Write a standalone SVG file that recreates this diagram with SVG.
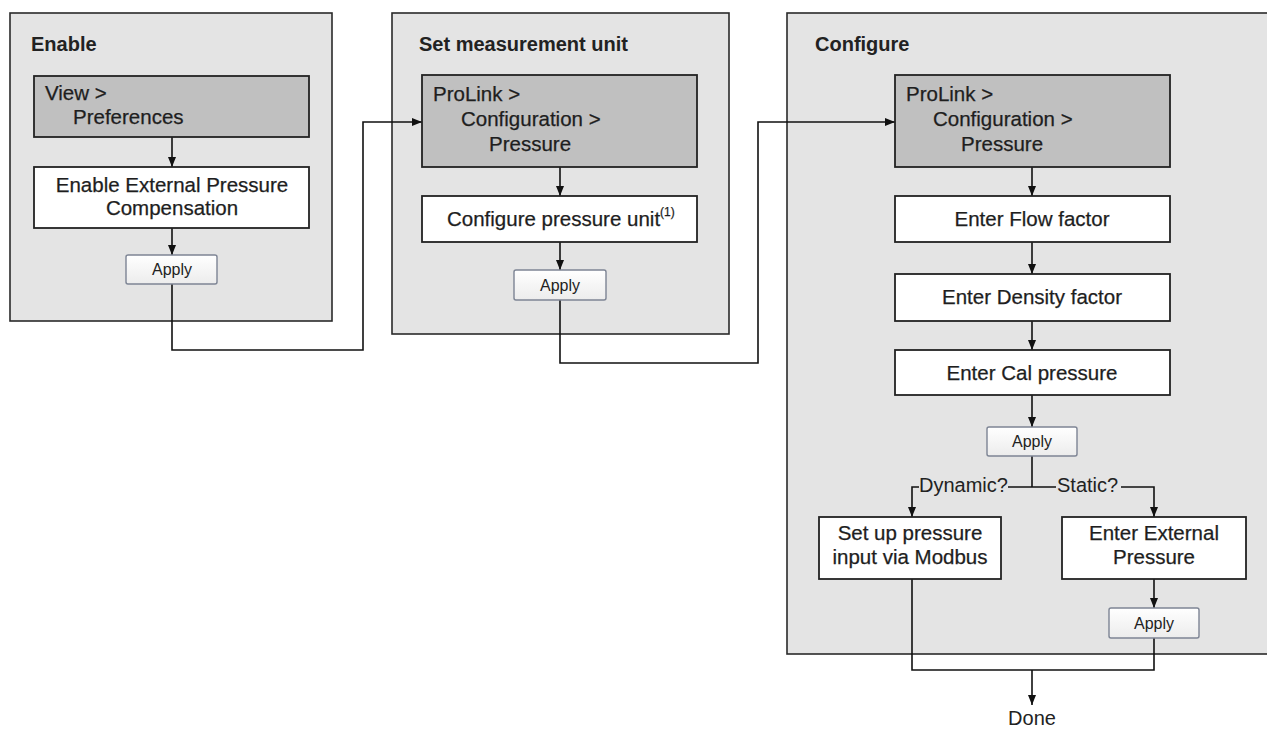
<svg xmlns="http://www.w3.org/2000/svg" width="1267" height="731" viewBox="0 0 1267 731">
<style>
.panel{fill:#e4e4e4;stroke:#2a2a2a;stroke-width:1.6}
.nav{fill:#c0c0c0;stroke:#222;stroke-width:1.8}
.box{fill:#fff;stroke:#222;stroke-width:1.8}
.btn{fill:url(#btnGrad);stroke:#7d8494;stroke-width:1.4}
.title{font-family:"Liberation Sans",Arial,sans-serif;font-size:20px;font-weight:bold;fill:#222}
.t{font-family:"Liberation Sans",Arial,sans-serif;font-size:20.5px;fill:#1e1e1e;stroke:#1e1e1e;stroke-width:0.25}
.c{text-anchor:middle}
.bt{font-family:"Liberation Sans",Arial,sans-serif;font-size:16px;fill:#222;text-anchor:middle}
.lbl{font-family:"Liberation Sans",Arial,sans-serif;font-size:20px;fill:#222}
.ln{fill:none;stroke:#111;stroke-width:1.6}
.arr{fill:none;stroke:#111;stroke-width:1.6;marker-end:url(#ah)}
</style>
<defs>
<linearGradient id="btnGrad" x1="0" y1="0" x2="0" y2="1">
<stop offset="0" stop-color="#ffffff"/>
<stop offset="1" stop-color="#ececec"/>
</linearGradient>
<marker id="ah" viewBox="0 0 10 8" refX="10" refY="4" markerWidth="10" markerHeight="8" markerUnits="userSpaceOnUse" orient="auto">
<path d="M0,0 L10,4 L0,8 z" fill="#111"/>
</marker>
</defs>
<rect width="1267" height="731" fill="#fff"/>

<g id="panel-enable">
<rect class="panel" x="10" y="13" width="322" height="308"/>
<text class="title" x="31" y="51">Enable</text>
</g>
<g id="panel-unit">
<rect class="panel" x="392" y="13" width="337" height="321"/>
<text class="title" x="419" y="51">Set measurement unit</text>
</g>
<g id="panel-configure">
<rect class="panel" x="787" y="13" width="490" height="641"/>
<text class="title" x="815" y="51">Configure</text>
</g>

<g id="connectors">
<line class="arr" x1="172" y1="137" x2="172" y2="167"/>
<line class="arr" x1="172" y1="228" x2="172" y2="255"/>
<polyline class="arr" points="172,284 172,350 363,350 363,122 422,122"/>
<line class="arr" x1="560" y1="167" x2="560" y2="196"/>
<line class="arr" x1="560" y1="242" x2="560" y2="270"/>
<polyline class="arr" points="560,300 560,363 758,363 758,122 895,122"/>
<line class="arr" x1="1032" y1="167" x2="1032" y2="196"/>
<line class="arr" x1="1032" y1="242" x2="1032" y2="274"/>
<line class="arr" x1="1032" y1="321" x2="1032" y2="350"/>
<line class="arr" x1="1032" y1="395" x2="1032" y2="427"/>
<polyline class="ln" points="1032,456 1032,487"/>
<polyline class="arr" points="919,487 912,487 912,517"/>
<line class="ln" x1="1008" y1="487" x2="1056" y2="487"/>
<polyline class="arr" points="1121,487 1154,487 1154,517"/>
<line class="arr" x1="1154" y1="579" x2="1154" y2="608"/>
<polyline class="ln" points="912,579 912,670 1154,670 1154,638"/>
<line class="arr" x1="1032" y1="670" x2="1032" y2="705"/>
<text class="lbl" x="919" y="492">Dynamic?</text>
<text class="lbl" x="1057" y="492">Static?</text>
</g>

<g id="n-view">
<rect class="nav" x="34" y="76" width="275" height="61"/>
<text class="t" x="45" y="100">View &gt;</text>
<text class="t" x="73" y="124">Preferences</text>
</g>
<g id="n-enable-epc">
<rect class="box" x="34" y="167" width="275" height="61"/>
<text class="t c" x="172" y="192">Enable External Pressure</text>
<text class="t c" x="172" y="215">Compensation</text>
</g>
<g id="n-apply1">
<rect class="btn" x="126" y="255" width="91" height="29" rx="2"/>
<text class="bt" x="172" y="275">Apply</text>
</g>

<g id="n-prolink2">
<rect class="nav" x="422" y="75" width="275" height="92"/>
<text class="t" x="433" y="101">ProLink &gt;</text>
<text class="t" x="461" y="126">Configuration &gt;</text>
<text class="t" x="489" y="151">Pressure</text>
</g>
<g id="n-unit">
<rect class="box" x="422" y="196" width="275" height="46"/>
<text class="t" x="447" y="226">Configure pressure unit<tspan font-size="12" dy="-10">(1)</tspan></text>
</g>
<g id="n-apply2">
<rect class="btn" x="514" y="270" width="92" height="30" rx="2"/>
<text class="bt" x="560" y="291">Apply</text>
</g>

<g id="n-prolink3">
<rect class="nav" x="895" y="75" width="275" height="92"/>
<text class="t" x="906" y="101">ProLink &gt;</text>
<text class="t" x="933" y="126">Configuration &gt;</text>
<text class="t" x="961" y="151">Pressure</text>
</g>
<g id="n-flow">
<rect class="box" x="895" y="196" width="275" height="46"/>
<text class="t c" x="1032" y="226">Enter Flow factor</text>
</g>
<g id="n-density">
<rect class="box" x="895" y="274" width="275" height="47"/>
<text class="t c" x="1032" y="304">Enter Density factor</text>
</g>
<g id="n-cal">
<rect class="box" x="895" y="350" width="275" height="45"/>
<text class="t c" x="1032" y="380">Enter Cal pressure</text>
</g>
<g id="n-apply3">
<rect class="btn" x="987" y="427" width="90" height="29" rx="2"/>
<text class="bt" x="1032" y="447">Apply</text>
</g>
<g id="n-modbus">
<rect class="box" x="819" y="517" width="182" height="62"/>
<text class="t c" x="910" y="540">Set up pressure</text>
<text class="t c" x="910" y="564">input via Modbus</text>
</g>
<g id="n-external">
<rect class="box" x="1062" y="517" width="184" height="62"/>
<text class="t c" x="1154" y="540">Enter External</text>
<text class="t c" x="1154" y="564">Pressure</text>
</g>
<g id="n-apply4">
<rect class="btn" x="1109" y="608" width="90" height="30" rx="2"/>
<text class="bt" x="1154" y="629">Apply</text>
</g>
<g id="n-done">
<text class="lbl c" x="1032" y="725" font-size="19" text-anchor="middle">Done</text>
</g>
</svg>
